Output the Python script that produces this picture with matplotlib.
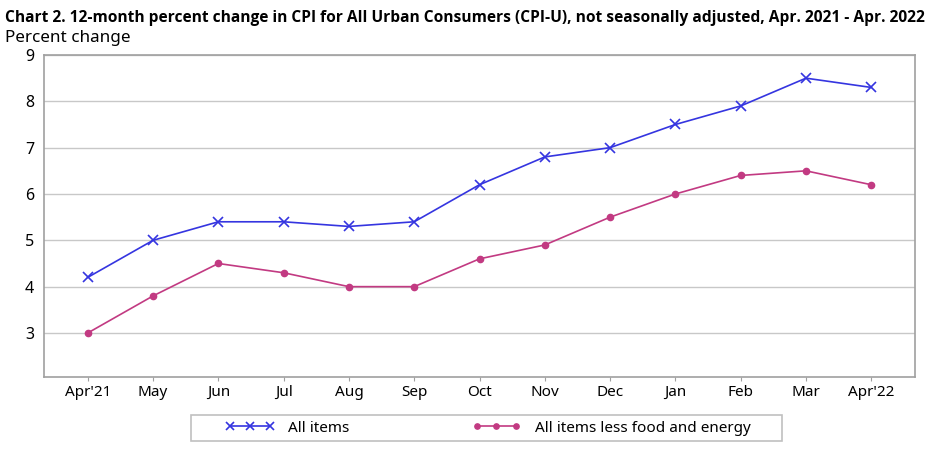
import matplotlib
matplotlib.use("Agg")
import matplotlib.pyplot as plt
from matplotlib.patches import Rectangle

plt.rcParams['font.family'] = ['Noto Sans', 'DejaVu Sans']

months = ["Apr'21", "May", "Jun", "Jul", "Aug", "Sep", "Oct", "Nov", "Dec",
          "Jan", "Feb", "Mar", "Apr'22"]
all_items = [4.2, 5.0, 5.4, 5.4, 5.3, 5.4, 6.2, 6.8, 7.0, 7.5, 7.9, 8.5, 8.3]
core = [3.0, 3.8, 4.5, 4.3, 4.0, 4.0, 4.6, 4.9, 5.5, 6.0, 6.4, 6.5, 6.2]

blue = "#3535e0"
pink = "#c23a82"
gray = "#a0a0a0"

fig = plt.figure(figsize=(9.34, 4.59), dpi=100)
ax = fig.add_axes([44 / 934, 1 - 377 / 459, (915 - 44) / 934, (377 - 55) / 459])

x = list(range(len(months)))
ax.plot(x, all_items, color=blue, lw=1.2, marker="x", ms=7, mew=1.2,
        label="All items")
ax.plot(x, core, color=pink, lw=1.2, marker="o", ms=4.5,
        label="All items less food and energy")

ax.set_xlim(-0.67, 12.67)
ax.set_ylim(2.05, 9)
ax.set_yticks(range(3, 10))
ax.set_xticks(x)
ax.set_xticklabels(months)
ax.grid(axis="y", color="#c8c8c8", lw=1)
ax.set_axisbelow(True)
for s in ax.spines.values():
    s.set_color(gray)
    s.set_linewidth(1.2)
ax.tick_params(axis="y", length=0, labelsize=11.5, pad=7)
ax.tick_params(axis="x", length=3, color=gray, labelsize=11, pad=3)

title = fig.text(5 / 934, 1 - 18 / 459,
                 "Chart 2. 12-month percent change in CPI for All Urban Consumers (CPI-U), "
                 "not seasonally adjusted, Apr. 2021 - Apr. 2022",
                 fontsize=11, fontweight="bold", va="center",
                 family=["Open Sans", "DejaVu Sans"])
# shrink title so it spans about 920 px like the reference
r = fig.canvas.get_renderer()
w = title.get_window_extent(r).width
title.set_fontsize(11 * 920 / w)
fig.text(5 / 934, 1 - 38 / 459, "Percent change", fontsize=12.3, va="center")

leg = fig.legend(loc="center", bbox_to_anchor=(488 / 934, 1 - 428 / 459),
                 ncol=2, fontsize=11, frameon=False,
                 handlelength=3.2, columnspacing=8, handletextpad=0.9,
                 numpoints=3, markerscale=0.85)
fig.patches.append(Rectangle((191 / 934, 1 - 441 / 459), 591 / 934, 26 / 459,
                             transform=fig.transFigure, fill=False,
                             edgecolor="#c0c0c0", lw=1.2))

fig.savefig("out.png", dpi=100)
